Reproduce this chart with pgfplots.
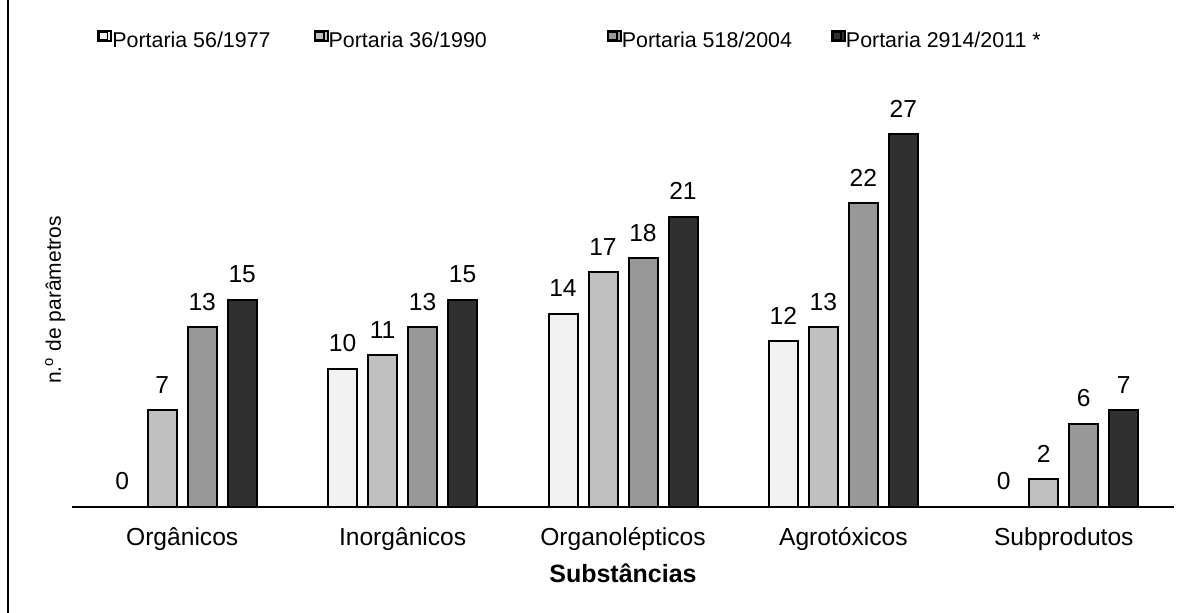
\documentclass[border=0pt]{standalone}
\usepackage{fontspec}
\setmainfont{Liberation Sans}
\newfontfamily\seriffont{Liberation Serif}
\usepackage{pgfplots}
\pgfplotsset{compat=1.18}
\definecolor{cA}{HTML}{F2F2F2}
\definecolor{cB}{HTML}{C0C0C0}
\definecolor{cC}{HTML}{989898}
\definecolor{cD}{HTML}{303030}
\begin{document}
\begin{tikzpicture}
\useasboundingbox (0,0) rectangle (599.5pt,306pt);
\node[overlay, anchor=base west, inner sep=0pt, font=\seriffont\bfseries\fontsize{14.7}{16}\selectfont] at (5pt,310pt) {para o consumo humano no Brasil};
\draw[overlay, line width=1pt] (4pt,-5pt) -- (4pt,307.5pt) -- (610pt,307.5pt);
\begin{axis}[
  at={(36pt,52.5pt)}, anchor=south west,
  scale only axis, width=551pt, height=207.2pt,
  xmin=-0.5, xmax=4.5, ymin=0, ymax=30,
  axis x line=bottom, axis y line=none,
  axis line style={line width=1pt, -},
  xtick={0,1,2,3,4},
  xticklabels={Orgânicos,Inorgânicos,Organolépticos,Agrotóxicos,Subprodutos},
  major tick length=0pt, ytick=\empty,
  xticklabel style={font=\fontsize{12.3}{14}\selectfont, anchor=base, yshift=-19pt, inner sep=0pt},
  xlabel={Substâncias},
  xlabel style={at={(axis description cs:0.5,0)}, anchor=base, yshift=-37.5pt, inner sep=0pt, font=\bfseries\fontsize{12.5}{14}\selectfont},
  ybar, bar width=14.5pt,
  clip=false,
  /pgf/number format/assume math mode=true,
  nodes near coords,
  every node near coord/.append style={font=\fontsize{12.3}{14}\selectfont, anchor=south, inner sep=0pt, yshift=8pt, text=black},
  legend columns=4,
  legend style={draw=none, fill=none, inner sep=0pt, at={(axis description cs:0,1)}, anchor=north west, xshift=12.5pt, yshift=31.5pt, font=\fontsize{10.7}{12}\selectfont,
    nodes={inner sep=0pt},
    /tikz/column 1/.style={column sep=0pt},
    /tikz/column 2/.style={column sep=21.5pt},
    /tikz/column 3/.style={column sep=0pt},
    /tikz/column 4/.style={column sep=60pt},
    /tikz/column 5/.style={column sep=0pt},
    /tikz/column 6/.style={column sep=19.5pt},
    /tikz/column 7/.style={column sep=0pt}},
  legend image code/.code={\path (0pt,0pt) rectangle (6.5pt,5pt);\draw[#1, line width=0.8pt] (0.4pt,0.4pt) rectangle (4.6pt,4.6pt);},
]
\addplot[bar shift=-30pt, fill=cA, draw=black, line width=1pt] coordinates {(0,0) (1,10) (2,14) (3,12) (4,0)};
\addplot[bar shift=-10pt, fill=cB, draw=black, line width=1pt] coordinates {(0,7) (1,11) (2,17) (3,13) (4,2)};
\addplot[bar shift=10pt, fill=cC, draw=black, line width=1pt] coordinates {(0,13) (1,13) (2,18) (3,22) (4,6)};
\addplot[bar shift=30pt, fill=cD, draw=black, line width=1pt] coordinates {(0,15) (1,15) (2,21) (3,27) (4,7)};
\legend{Portaria 56/1977, Portaria 36/1990, Portaria 518/2004, Portaria 2914/2011 *}
\node[anchor=base, rotate=90, inner sep=0pt, font=\fontsize{10.5}{12}\selectfont] at ([xshift=-5.5pt]axis description cs:0,0.5) {n.\textsuperscript{o} de parâmetros};
\end{axis}
\end{tikzpicture}
\end{document}
